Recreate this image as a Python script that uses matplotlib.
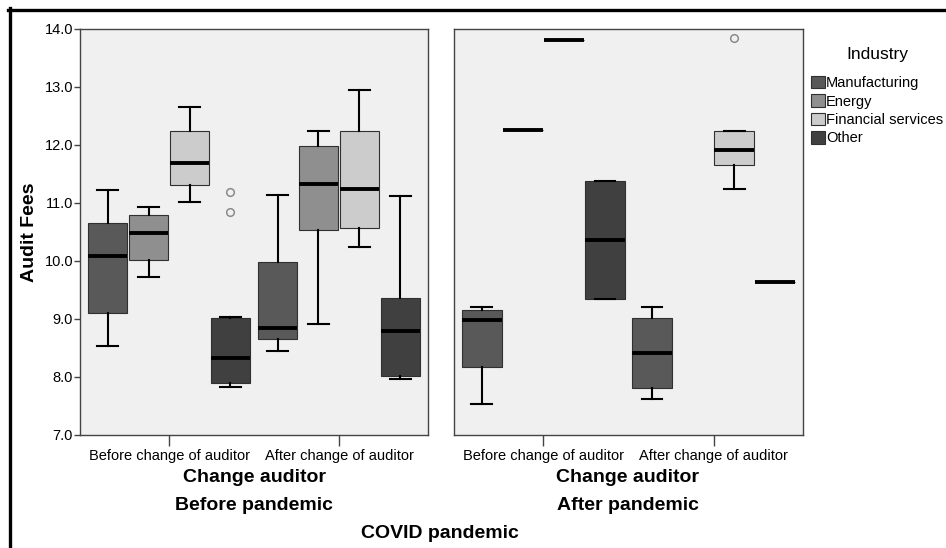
import matplotlib
matplotlib.use('Agg')
import matplotlib.pyplot as plt
from matplotlib.patches import Patch
from matplotlib.lines import Line2D

plt.rcParams['font.family'] = ['Liberation Sans', 'DejaVu Sans']

industries = ['Manufacturing', 'Energy', 'Financial services', 'Other']
industry_colors = ['#595959', '#8f8f8f', '#cccccc', '#404040']
change_labels = ['Before change of auditor', 'After change of auditor']
panel_titles = ['Before pandemic', 'After pandemic']

# five-number summaries (whisker low, Q1, median, Q3, whisker high) per industry
pre_before = [(8.54, 9.10, 10.09, 10.65, 11.22), (9.72, 10.01, 10.49, 10.80, 10.93),
              (11.01, 11.31, 11.69, 12.24, 12.66), (7.83, 7.90, 8.33, 9.02, 9.04)]
pre_before_out = [[], [], [], [11.19, 10.84]]
pre_after = [(8.45, 8.65, 8.85, 9.99, 11.13), (8.92, 10.53, 11.33, 11.98, 12.25),
             (10.24, 10.57, 11.24, 12.24, 12.94), (7.97, 8.01, 8.80, 9.36, 11.12)]
pre_after_out = [[], [], [], []]
post_before = [(7.53, 8.18, 8.98, 9.16, 9.20), (12.26, 12.26, 12.26, 12.26, 12.26),
               (13.81, 13.81, 13.81, 13.81, 13.81), (9.34, 9.34, 10.36, 11.38, 11.38)]
post_before_out = [[], [], [], []]
post_after = [(7.62, 7.81, 8.41, 9.01, 9.20), None,
              (11.24, 11.66, 11.92, 12.24, 12.25), (9.64, 9.64, 9.64, 9.64, 9.64)]
post_after_out = [[], [], [13.85], []]

panels = [[(pre_before, pre_before_out), (pre_after, pre_after_out)],
          [(post_before, post_before_out), (post_after, post_after_out)]]

W, H = 946, 548
fig = plt.figure(figsize=(W / 100, H / 100), dpi=100)


def px_axes(x0, y0, x1, y1):
    return fig.add_axes([x0 / W, 1 - y1 / H, (x1 - x0) / W, (y1 - y0) / H])


box_w = 0.241
axes = [px_axes(80, 29, 428, 435), px_axes(454, 29, 803, 435)]

for p, ax in enumerate(axes):
    ax.set_facecolor('#f0f0f0')
    for g, (stats, outs) in enumerate(panels[p]):
        for i, s in enumerate(stats):
            if s is None:
                continue
            pos = g + 1 + (i - 1.5) * box_w
            st = dict(whislo=s[0], q1=s[1], med=s[2], q3=s[3], whishi=s[4], fliers=outs[i])
            ax.bxp([st], positions=[pos], widths=box_w * 0.97, patch_artist=True,
                   boxprops=dict(facecolor=industry_colors[i], edgecolor='#303030', linewidth=0.8),
                   medianprops=dict(color='black', linewidth=2.8, solid_capstyle='butt'),
                   whiskerprops=dict(color='black', linewidth=1.5),
                   capprops=dict(color='black', linewidth=1.5),
                   capwidths=box_w * 0.5,
                   flierprops=dict(marker='o', markerfacecolor='none', markeredgecolor='#8a8a8a',
                                   markersize=5.5, markeredgewidth=1.1),
                   manage_ticks=False)
    ax.set_xlim(0.476, 2.524)
    ax.set_ylim(7, 14)
    ax.set_xticks([1, 2])
    ax.set_xticklabels(change_labels, fontsize=10.5)
    ax.tick_params(axis='x', length=8, width=1, color='#444444', pad=2)
    for sp in ax.spines.values():
        sp.set_color('#444444')
        sp.set_linewidth(1.0)
    if p == 0:
        ax.set_yticks([7, 8, 9, 10, 11, 12, 13, 14])
        ax.set_yticklabels([f'{v:.1f}' for v in [7, 8, 9, 10, 11, 12, 13, 14]], fontsize=10.5)
        ax.tick_params(axis='y', length=4, width=1, color='#444444', pad=1)
    else:
        ax.set_yticks([])

# axis titles
fig.text(30 / W, 1 - 232 / H, 'Audit Fees', rotation=90, ha='center', va='center',
         fontsize=14, fontweight='bold')
for cx, title in zip([254, 628], panel_titles):
    fig.text(cx / W, 1 - 478 / H, 'Change auditor', ha='center', va='center',
             fontsize=14, fontweight='bold')
    fig.text(cx / W, 1 - 506 / H, title, ha='center', va='center',
             fontsize=14, fontweight='bold')
fig.text(440 / W, 1 - 534 / H, 'COVID pandemic', ha='center', va='center',
         fontsize=14, fontweight='bold')

# legend
fig.text(877 / W, 1 - 55 / H, 'Industry', ha='center', va='center', fontsize=12.5)
handles = [Patch(facecolor=c, edgecolor='#303030', linewidth=0.8) for c in industry_colors]
fig.legend(handles, industries, loc='upper left', bbox_to_anchor=(805 / W, 1 - 70 / H),
           frameon=False, fontsize=10.5, handlelength=0.95, handleheight=0.95,
           handletextpad=0.1, labelspacing=0.28, borderaxespad=0)

# outer frame (top and left edges)
fig.add_artist(Line2D([8 / W, 1], [1 - 9.5 / H, 1 - 9.5 / H], color='black', linewidth=2.4))
fig.add_artist(Line2D([9.5 / W, 9.5 / W], [0, 1 - 8 / H], color='black', linewidth=2.4))

fig.savefig('out.png', dpi=100, facecolor='white')
